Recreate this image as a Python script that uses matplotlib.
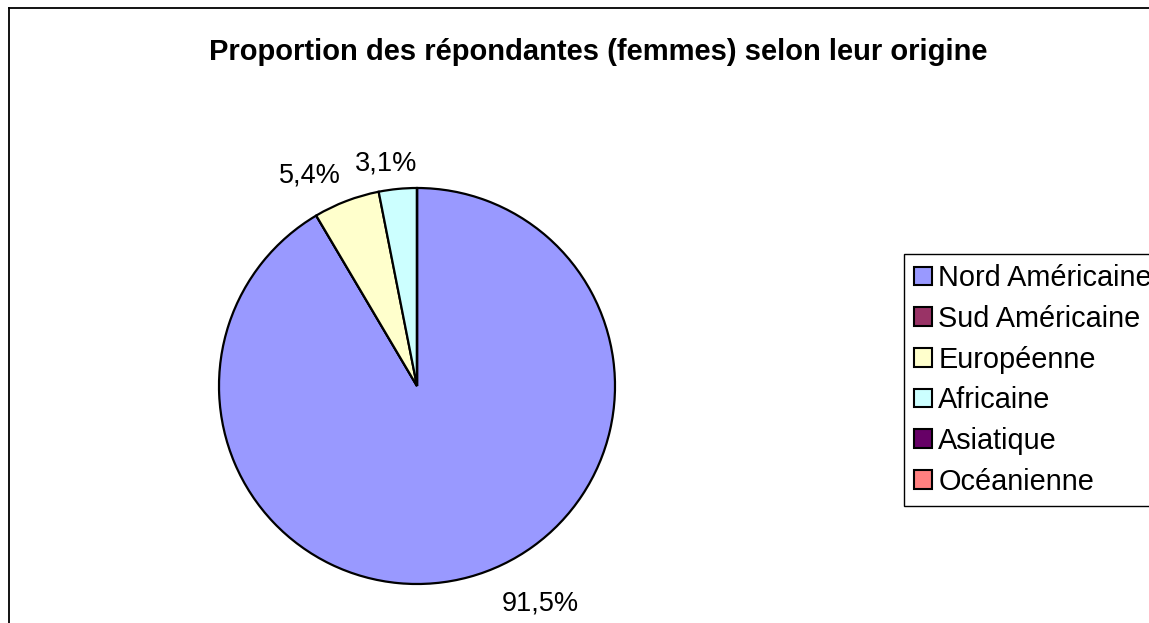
import matplotlib
matplotlib.use("Agg")
import matplotlib.pyplot as plt
from matplotlib.patches import Patch
from matplotlib.lines import Line2D

categories = ["Nord Américaine", "Sud Américaine", "Européenne", "Africaine", "Asiatique", "Océanienne"]
values = [91.5, 0.0, 5.4, 3.1, 0.0, 0.0]
colors = ["#9999FF", "#993366", "#FFFFCC", "#CCFFFF", "#660066", "#FF8080"]
title = "Proportion des répondantes (femmes) selon leur origine"

W, H = 1149, 623
plt.rcParams['font.family'] = ['Liberation Sans', 'DejaVu Sans']
fig = plt.figure(figsize=(W / 100, H / 100), dpi=100)
fig.patch.set_facecolor("white")
ax = fig.add_axes([0, 0, 1, 1])

cx, cy, r = 417, H - 386, 198
wedges, _ = ax.pie(values, colors=colors, startangle=90, counterclock=False,
                   center=(cx, cy), radius=r, frame=True,
                   wedgeprops=dict(edgecolor="black", linewidth=1.6))
ax.set_xlim(0, W)
ax.set_ylim(0, H)
ax.set_aspect("equal")
ax.axis("off")

# data labels (non-zero slices only)
label_pos = {0: (540, 604), 2: (310, 175), 3: (386, 163)}
for i, v in enumerate(values):
    if v > 0:
        x, y = label_pos[i]
        ax.text(x, H - y, f"{v:.1f}%".replace(".", ","), fontsize=19.5,
                ha="center", va="center", color="black")

fig.text(598 / W, 1 - 52 / H, title, fontsize=21, fontweight="bold",
         ha="center", va="center")

handles = [Patch(facecolor=c, edgecolor="black", linewidth=1.5) for c in colors]
leg = fig.legend(handles, categories, loc="upper left",
                 bbox_to_anchor=(904 / W, 1 - 254 / H), fontsize=20.8,
                 frameon=True, fancybox=False, shadow=False,
                 handlelength=0.62, handleheight=0.62, handletextpad=0.22,
                 labelspacing=0.44, borderpad=0.35, borderaxespad=0,
                 edgecolor="black", framealpha=1)
leg.get_frame().set_linewidth(1.0)

# outer chart border (left and top visible)
fig.add_artist(Line2D([9 / W, 9 / W], [0, 1 - 8 / H], transform=fig.transFigure,
                      color="black", linewidth=1.3))
fig.add_artist(Line2D([9 / W, 1], [1 - 8 / H, 1 - 8 / H], transform=fig.transFigure,
                      color="black", linewidth=1.3))

fig.savefig("out.png", dpi=100)
